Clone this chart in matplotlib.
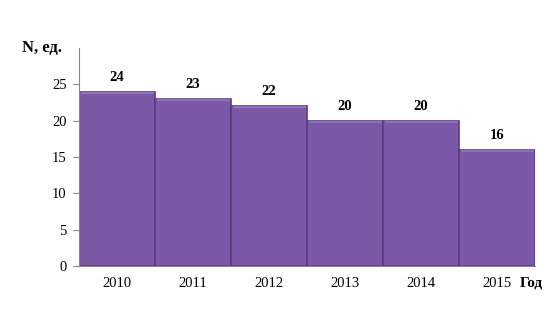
import matplotlib.pyplot as plt
import numpy as np

years = ["2010", "2011", "2012", "2013", "2014", "2015"]
counts = [24, 23, 22, 20, 20, 16]

plt.rcParams['font.family'] = ['Liberation Serif', 'DejaVu Serif']

fig = plt.figure(figsize=(5.53, 3.34), dpi=100)
ax = fig.add_axes([0.1429, 0.2036, 0.8246, 0.6524])

x = np.arange(len(years))
bars = ax.bar(x, counts, width=1.0, color='#7c59a7', edgecolor='#5a3d80', linewidth=1.2)
# light rim along the top of each bar
for b in bars:
    ax.plot([b.get_x() + 0.02, b.get_x() + b.get_width() - 0.02],
            [b.get_height() - 0.12] * 2, color='#9677c0', lw=1.2, solid_capstyle='butt')

for xi, v in zip(x, counts):
    ax.text(xi, v + 1.1, str(v), ha='center', va='bottom', fontsize=10.5, fontweight='bold')

ax.set_xlim(-0.5, len(years) - 0.5)
ax.set_ylim(0, 30)
ax.set_yticks([0, 5, 10, 15, 20, 25])
ax.set_xticks(x)
ax.set_xticklabels(years)
ax.tick_params(axis='y', length=4, color='#888888', labelsize=10.5, pad=5)
ax.tick_params(axis='x', length=0, labelsize=10.5, pad=8)

for s in ['top', 'right']:
    ax.spines[s].set_visible(False)
ax.spines['left'].set_color('#888888')
ax.spines['bottom'].set_color('#888888')

fig.text(0.04, 0.855, "N, ед.", fontsize=12, fontweight='bold', va='center')
fig.text(0.94, 0.152, "Год", fontsize=11, fontweight='bold', va='center')

fig.savefig("out.png", dpi=100)
